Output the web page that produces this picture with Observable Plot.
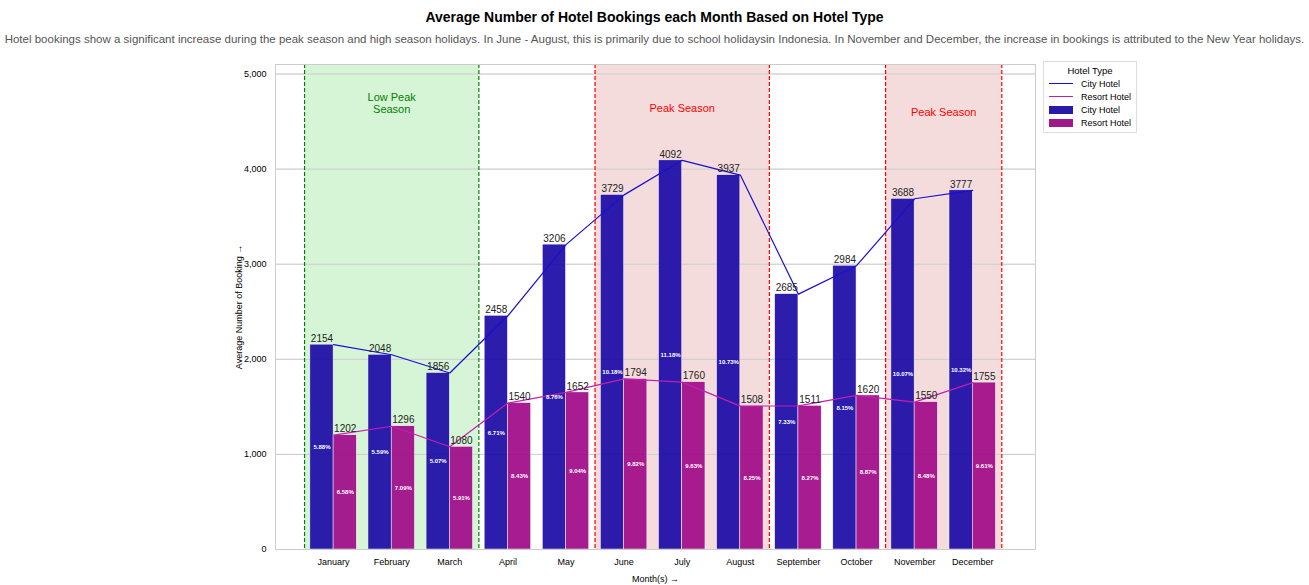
<!DOCTYPE html>
<html><head><meta charset="utf-8">
<script src="https://cdn.jsdelivr.net/npm/d3@7"></script>
<script src="https://cdn.jsdelivr.net/npm/@observablehq/plot@0.6"></script>
<style>
body{margin:0;font-family:"Liberation Sans",Arial,sans-serif;background:#fff;position:relative;width:1309px}
#title{text-align:center;font-weight:bold;font-size:14px;padding-top:9px;height:22px}
#sub{text-align:center;font-size:11.5px;color:#555;height:27px;padding-top:2px}
#legend{position:absolute;left:1043px;top:61px;border:1px solid #ddd;font-size:9px;padding:3px 5px;background:#fff}
#legend .r{display:flex;align-items:center;height:13px}
#legend .s{width:24px;margin-right:8px}
</style></head><body>
<div id="title">Average Number of Hotel Bookings each Month Based on Hotel Type</div>
<div id="sub">Hotel bookings show a significant increase during the peak season and high season holidays. In June - August, this is primarily due to school holidaysin Indonesia. In November and December, the increase in bookings is attributed to the New Year holidays.</div>
<div id="chart"></div>
<div id="legend">
<div style="text-align:center;font-size:9.5px;margin-bottom:1px">Hotel Type</div>
<div class="r"><div class="s" style="border-top:1.5px solid #1a0fd0"></div>City Hotel</div>
<div class="r"><div class="s" style="border-top:1.5px solid #c020b0"></div>Resort Hotel</div>
<div class="r"><div class="s" style="height:8px;background:#2a1aa8"></div>City Hotel</div>
<div class="r"><div class="s" style="height:8px;background:#a0188a"></div>Resort Hotel</div>
</div>
<script>
const months = ["January","February","March","April","May","June","July","August","September","October","November","December"]
const city = [2154,2048,1856,2458,3206,3729,4092,3937,2685,2984,3688,3777]
const resort = [1202,1296,1080,1540,1652,1794,1760,1508,1511,1620,1550,1755]
const cityPct = ["5.88%","5.59%","5.07%","6.71%","8.76%","10.18%","11.18%","10.73%","7.33%","8.15%","10.07%","10.32%"]
const resortPct = ["6.58%","7.09%","5.91%","8.43%","9.04%","9.82%","9.63%","8.25%","8.27%","8.87%","8.48%","9.61%"]
const seasons = [
  {from: 0, to: 2, label: "Low Peak\nSeason", color: "green", fill: "#d6f5d6", y: 4690},
  {from: 5, to: 7, label: "Peak Season", color: "red", fill: "#f5dcdc", y: 4640},
  {from: 10, to: 11, label: "Peak Season", color: "red", fill: "#f5dcdc", y: 4600}
]

const rows = months.map((m, i) => ({i, m, city: city[i], resort: resort[i], cp: cityPct[i], rp: resortPct[i]}))
const edges = seasons.flatMap(s => [{x: s.from - 0.5, c: s.color}, {x: s.to + 0.5, c: s.color}])
const w = 0.4

const chart = Plot.plot({
  width: 1309, height: 527,
  marginLeft: 275, marginRight: 274, marginTop: 4, marginBottom: 38,
  style: {fontFamily: "Liberation Sans, Arial, sans-serif", fontSize: "9px"},
  x: {domain: [-1, 12.08], ticks: d3.range(12), tickFormat: i => months[i], tickSize: 0, label: "Month(s)", labelAnchor: "center", labelOffset: 32},
  y: {domain: [0, 5100], ticks: d3.range(0, 5001, 1000), tickSize: 0, grid: true, label: "Average Number of Booking", labelAnchor: "center", labelOffset: 40},
  marks: [
    Plot.rect(seasons, {x1: d => d.from - 0.5, x2: d => d.to + 0.5, y1: 0, y2: 5100, fill: "fill"}),
    Plot.gridY(d3.range(1000, 5001, 1000), {stroke: "#ccc", strokeOpacity: 1}),
    Plot.ruleX(edges, {x: "x", stroke: "c", strokeDasharray: "4,2", strokeWidth: 1.2}),
    Plot.rectY(rows, {x1: d => d.i - w, x2: d => d.i, y: "city", fill: "#1a0aa5", fillOpacity: 0.92, stroke: "#fff", strokeWidth: 0.5}),
    Plot.rectY(rows, {x1: d => d.i, x2: d => d.i + w, y: "resort", fill: "#a00a88", fillOpacity: 0.92, stroke: "#fff", strokeWidth: 0.5}),
    Plot.line(rows, {x: "i", y: "city", stroke: "#1a0fd0", strokeWidth: 1.2}),
    Plot.line(rows, {x: "i", y: "resort", stroke: "#c020b0", strokeWidth: 1.2}),
    Plot.text(rows, {x: d => d.i - w / 2, y: "city", text: d => String(d.city), dy: -6, fontSize: 10, fill: "#222"}),
    Plot.text(rows, {x: d => d.i + w / 2, y: "resort", text: d => String(d.resort), dy: -6, fontSize: 10, fill: "#222"}),
    Plot.text(rows, {x: d => d.i - w / 2, y: d => d.city / 2, text: "cp", fontSize: 6, fontWeight: "bold", fill: "#fff"}),
    Plot.text(rows, {x: d => d.i + w / 2, y: d => d.resort / 2, text: "rp", fontSize: 6, fontWeight: "bold", fill: "#fff"}),
    Plot.text(seasons, {x: d => (d.from + d.to) / 2, y: "y", text: "label", fill: "color", fontSize: 11, lineHeight: 1.1}),
    Plot.frame({stroke: "#ccc"})
  ]
})
document.getElementById("chart").append(chart)
</script>
</body></html>
